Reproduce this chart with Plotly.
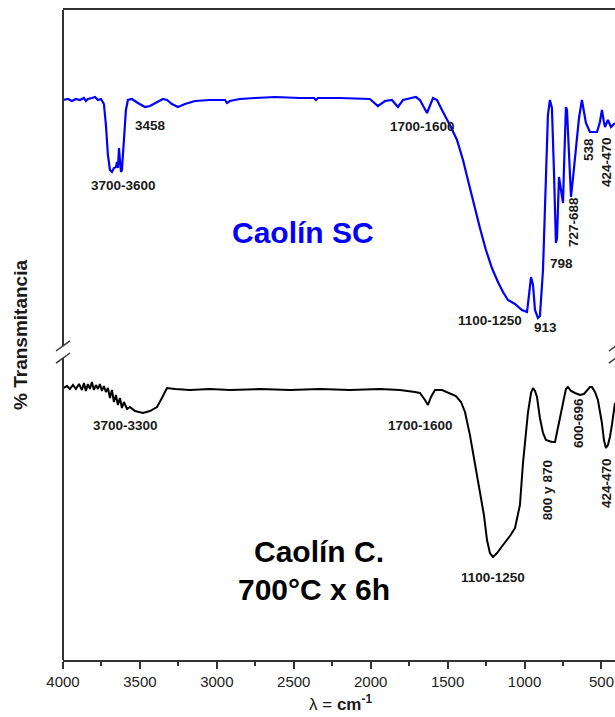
import plotly.graph_objects as go

# ---- Caolín SC (blue) ----
sc_wn = [4000, 3968, 3942, 3916, 3890, 3864, 3851, 3838, 3812, 3792, 3773, 3753, 3734, 3721, 3708,
         3695, 3682, 3669, 3656, 3649, 3643, 3636, 3630, 3623, 3617, 3604, 3591, 3578, 3552, 3513,
         3467, 3435, 3389, 3350, 3324, 3292, 3253, 3207, 3142, 3045, 2947, 2934, 2915, 2850, 2752,
         2622, 2460, 2369, 2356, 2343, 2200, 2070, 2005, 1953, 1907, 1862, 1823, 1790, 1745, 1706,
         1680, 1634, 1595, 1569, 1530, 1485, 1439, 1400, 1368, 1329, 1290, 1251, 1212, 1173, 1140,
         1108, 1062, 1017, 984, 971, 958, 945, 932, 913, 900, 880, 861, 848, 835, 822,
         809, 796, 789, 783, 776, 763, 750, 744, 731, 724, 711, 698, 685, 666, 646,
         627, 614, 601, 575, 529, 510, 497, 484, 477, 458, 438, 412]
sc_t = [112, 112.2, 111.8, 112.2, 112, 112.4, 111.8, 112.2, 112.4, 112.6, 112, 112.2, 111.2, 107, 101,
        98, 97.6, 98.4, 98.6, 99.6, 98.4, 102.4, 100, 97.6, 98, 104, 110, 112, 112.2, 111.4,
        110.6, 110.8, 111.6, 112.2, 112, 111.2, 110.6, 111.2, 111.8, 112, 112, 111.4, 111.8, 112.2, 112.4,
        112.6, 112.4, 112.4, 112, 112.4, 112.4, 112.2, 112.2, 110.8, 111.8, 112, 110.6, 112, 112.4, 112.6,
        112, 109.4, 112.4, 112, 109.6, 107, 104, 100, 96, 91, 86.4, 82, 78.4, 75.6, 73.6,
        72, 71.2, 70, 69.6, 73, 76.6, 75, 70, 68.4, 68.8, 78, 98, 109, 112, 110.4,
        98, 83.4, 84.4, 93, 96.6, 94, 91.4, 98, 110.6, 110, 100, 92.6, 96.4, 103, 108.4,
        112, 109.6, 107.4, 105.6, 105.6, 107.6, 110, 107.6, 106.6, 108, 106.6, 107.4]

# ---- Caolín C. 700°C x 6h (black) ----
c7_wn = [4000, 3974, 3955, 3935, 3916, 3896, 3877, 3864, 3851, 3838, 3825, 3812, 3799, 3786, 3773,
         3760, 3747, 3734, 3721, 3708, 3695, 3682, 3669, 3656, 3643, 3630, 3617, 3604, 3584, 3565,
         3532, 3480, 3435, 3389, 3357, 3324, 3272, 3175, 3045, 2915, 2720, 2525, 2330, 2135, 1940,
         1810, 1712, 1680, 1647, 1628, 1608, 1582, 1536, 1485, 1446, 1413, 1387, 1355, 1322, 1290,
         1264, 1244, 1225, 1205, 1179, 1140, 1095, 1062, 1030, 1010, 991, 978, 958, 945, 932,
         919, 900, 880, 861, 822, 802, 789, 770, 750, 731, 718, 698, 672, 640, 614,
         594, 575, 562, 542, 523, 497, 484, 471, 458, 445, 432, 412]
c7_t = [54.4, 54.8, 54.2, 55, 54.2, 55.2, 54, 55.4, 53.8, 55.2, 54.2, 55.6, 54, 55, 54.2,
        55.2, 53.8, 54.8, 53.6, 54.4, 52.4, 54, 51.6, 53, 51, 52.4, 50.4, 51.6, 50.2, 50.6,
        49.8, 49.4, 49.8, 50.6, 52.4, 54.4, 54.2, 54, 54.2, 54, 54.2, 54, 54.2, 54, 54.2,
        54, 53.6, 53.4, 52, 51, 52.6, 54, 54, 53.4, 52.8, 51.6, 49.6, 45, 39, 34,
        29, 24, 21.4, 20.6, 21.4, 23, 24.8, 26.4, 31, 39.4, 46, 49.4, 53.4, 54.4, 53.8,
        52.6, 48.4, 45.4, 44, 43.6, 43.6, 45.6, 48.4, 52, 54.2, 54.6, 53.8, 53.4, 53, 53.2,
        54, 54.6, 54.6, 53.6, 52, 47.4, 44, 42.4, 43, 44.6, 47, 51.4]

x_ticks = [4000, 3500, 3000, 2500, 2000, 1500, 1000, 500]

# band labels: (text, wavenumber, T, angle)
sc_labels = [("3700-3600", 3610, 95, 0), ("3458", 3434, 107, 0), ("1700-1600", 1666, 106.8, 0),
             ("1100-1250", 1224, 68, 0), ("913", 867, 66.6, 0), ("798", 763, 79.4, 0),
             ("727-688", 685, 87.6, -90), ("538", 587, 102, -90), ("424-470", 470, 99.6, -90)]
c7_labels = [("3700-3300", 3597, 47, 0), ("1700-1600", 1679, 47, 0), ("1100-1250", 1205, 16.6, 0),
             ("800 y 870", 853, 34, -90), ("600-696", 652, 47.4, -90), ("424-470", 470, 35.4, -90)]

FONT = "Arial, Liberation Sans, sans-serif"

fig = go.Figure()
fig.add_trace(go.Scatter(x=sc_wn, y=sc_t, mode="lines", line=dict(color="#0000FF", width=2.2),
                         name="Caolín SC", showlegend=False))
fig.add_trace(go.Scatter(x=c7_wn, y=c7_t, mode="lines", line=dict(color="#000000", width=2),
                         name="Caolín C. 700°C x 6h", showlegend=False))

ann = []
for txt, xv, yv, ang in sc_labels + c7_labels:
    ann.append(dict(x=xv, y=yv, xref="x", yref="y", text="<b>%s</b>" % txt, showarrow=False,
                    textangle=ang, font=dict(family=FONT, size=13.5, color="#1a1a1a"),
                    xanchor="center", yanchor="middle"))

ann.append(dict(x=2440, y=85.6, xref="x", yref="y", text="<b>Caolín SC</b>", showarrow=False,
                font=dict(family=FONT, size=30, color="#0000FF")))
ann.append(dict(x=2336, y=21.8, xref="x", yref="y", text="<b>Caolín C.</b>", showarrow=False,
                font=dict(family=FONT, size=30, color="#000000")))
ann.append(dict(x=2368, y=14.2, xref="x", yref="y", text="<b>700°C x 6h</b>", showarrow=False,
                font=dict(family=FONT, size=30, color="#000000")))
ann.append(dict(x=-0.078, y=0.5, xref="paper", yref="paper", text="<b>% Transmitancia</b>",
                showarrow=False, textangle=-90, font=dict(family=FONT, size=19, color="#1a1a1a"),
                xanchor="center", yanchor="middle"))
ann.append(dict(x=0.5025, y=-0.066, xref="paper", yref="paper",
                text="λ = <b>cm<sup>-1</sup></b>", showarrow=False,
                font=dict(family=FONT, size=17, color="#1a1a1a"), xanchor="center", yanchor="middle"))

AX = "#333333"
shapes = [
    # left axis with break
    dict(type="line", xref="paper", yref="paper", x0=0, x1=0, y0=0.4831, y1=1, line=dict(color=AX, width=2)),
    dict(type="line", xref="paper", yref="paper", x0=0, x1=0, y0=0, y1=0.4646, line=dict(color=AX, width=2)),
    dict(type="line", xref="paper", yref="paper", x0=-0.0127, x1=0.0127, y0=0.4754, y1=0.4908, line=dict(color=AX, width=1.5)),
    dict(type="line", xref="paper", yref="paper", x0=-0.0127, x1=0.0127, y0=0.4569, y1=0.4723, line=dict(color=AX, width=1.5)),
    # right break marks
    dict(type="line", xref="paper", yref="paper", x0=0.989, x1=1.0145, y0=0.4754, y1=0.4908, line=dict(color=AX, width=1.5)),
    dict(type="line", xref="paper", yref="paper", x0=0.989, x1=1.0145, y0=0.4569, y1=0.4723, line=dict(color=AX, width=1.5)),
]

fig.update_layout(
    width=615, height=717,
    margin=dict(l=63, r=0, t=10, b=57),
    paper_bgcolor="white", plot_bgcolor="white",
    xaxis=dict(range=[4000, 412], tickvals=x_ticks, ticktext=[str(v) for v in x_ticks],
               ticks="outside", ticklen=7, tickwidth=2, tickcolor=AX,
               showline=True, linecolor=AX, linewidth=2, mirror=True,
               showgrid=False, zeroline=False,
               tickfont=dict(family=FONT, size=15, color="#222222"),
               minor=dict(dtick=250, tick0=0, ticks="outside", ticklen=4, tickwidth=2, tickcolor=AX)),
    yaxis=dict(range=[0, 130], showticklabels=False, showline=False, showgrid=False,
               zeroline=False, ticks=""),
    annotations=ann, shapes=shapes,
)

fig.write_html("out.html", config={"displayModeBar": False},
               post_script="document.body.style.margin='0';document.body.style.padding='0';document.body.style.overflow='hidden';")
